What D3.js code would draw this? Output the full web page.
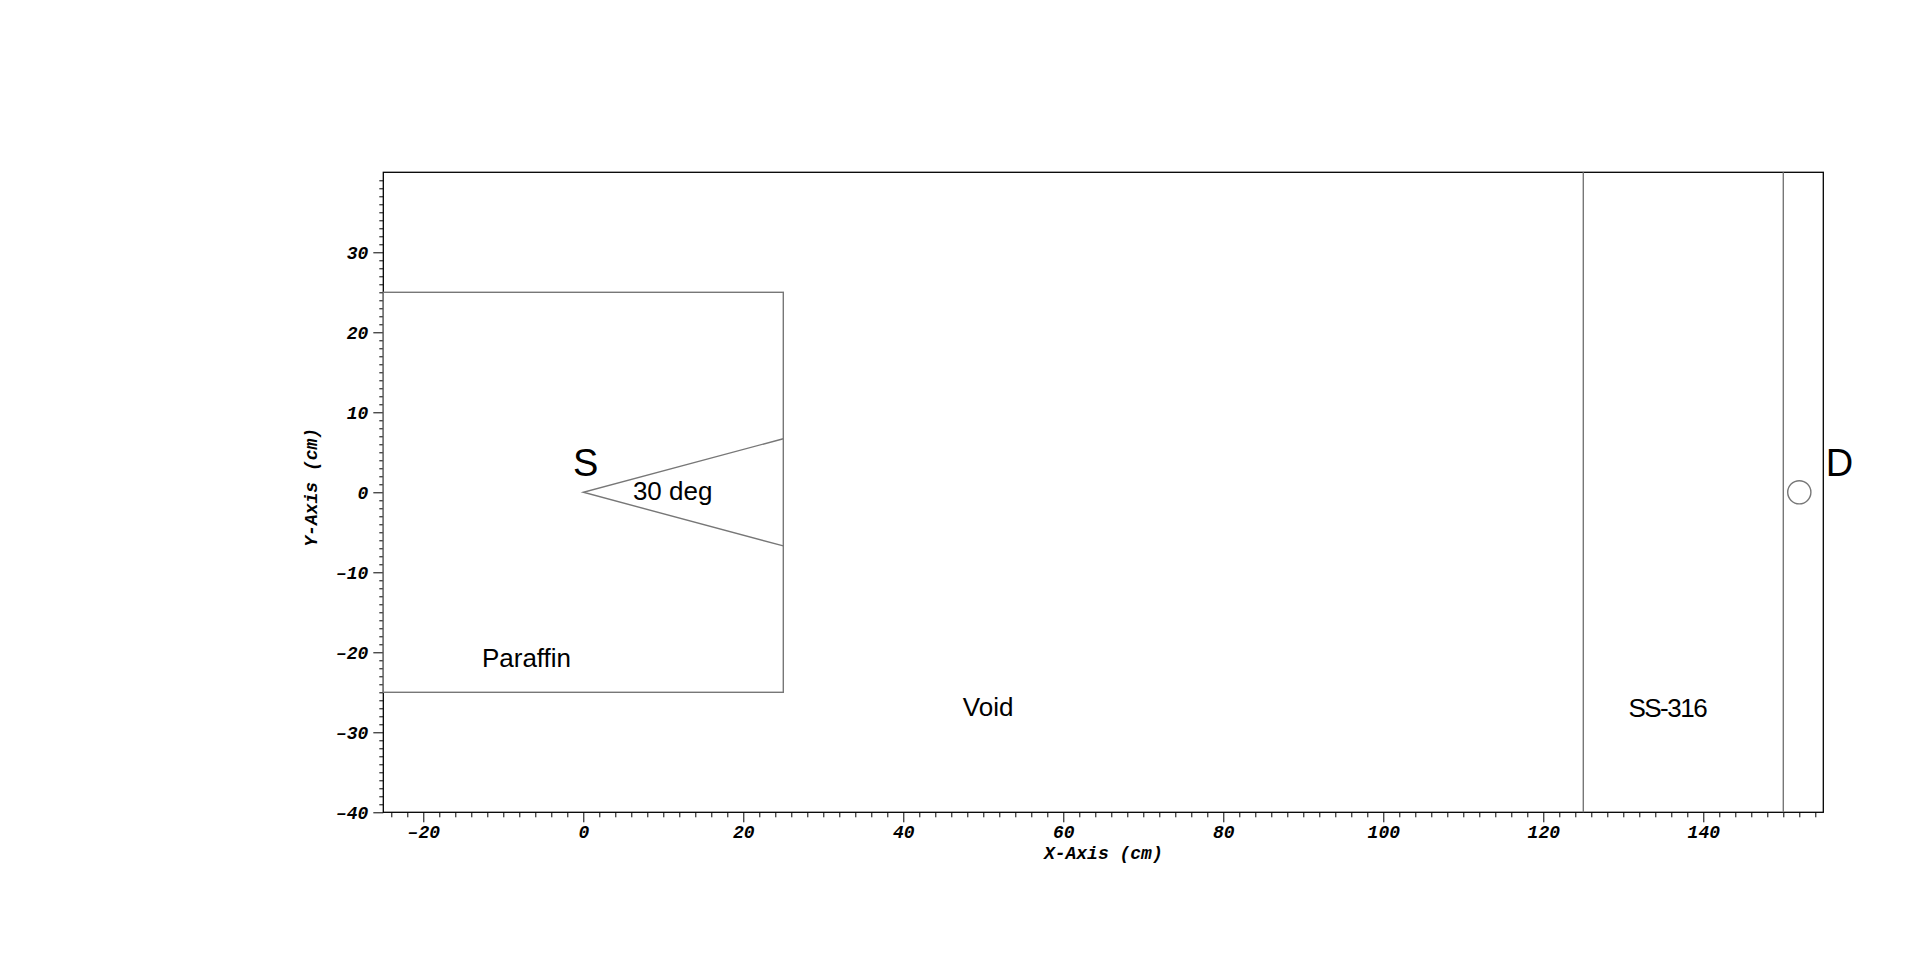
<!DOCTYPE html>
<html>
<head>
<meta charset="utf-8">
<script src="https://cdn.jsdelivr.net/npm/d3@7"></script>
<style>
  body { margin: 0; background: #fff; }
  .tick text { font-family: "Liberation Mono", monospace; font-weight: bold; font-style: italic; font-size: 18px; }
  .lbl { font-family: "Liberation Sans", sans-serif; fill: #000; }
</style>
</head>
<body>
<div id="chart"></div>
<script>
// geometry in cm
const xDomain = [-25, 155]
const yDomain = [-40, 40]
const xMajor = [-20, 0, 20, 40, 60, 80, 100, 120, 140]
const yMajor = [-40, -30, -20, -10, 0, 10, 20, 30]
const paraffinBox = [[-25, -25], [25, 25]]
const conePts = [[25, 6.7], [0, 0], [25, -6.7]]
const wallXs = [125, 150]
const detector = [152, 0, 1.45]   // x, y, radius
const labelText = ["S", "30 deg", "Paraffin", "Void", "SS-316", "D"]
const labelX = [0.3, 6.2, -7.1, 50.6, 135.5, 155.3]
const labelY = [2, -1, -21.9, -28, -28.1, 2]

let margin = { top: 172.3, left: 383.3 },
  width = 1440,
  height = 640

let svg = d3.select("#chart").append("svg")
  .attr("width", 1920)
  .attr("height", 956)
  .append("g")
  .attr("transform", "translate(" + margin.left + "," + margin.top + ")");

let x = d3.scaleLinear().domain(xDomain).range([0, width])
let y = d3.scaleLinear().domain(yDomain).range([height, 0])

// minor ticks
let xMinor = d3.range(-24, 156, 2).filter(v => v % 20 != 0)
let yMinor = d3.range(-39, 40, 1).filter(v => v % 10 != 0)

svg.append("g")
  .attr("transform", "translate(0," + height + ")")
  .call(d3.axisBottom(x).tickValues(xMinor).tickSize(5).tickFormat(""))
svg.append("g")
  .call(d3.axisLeft(y).tickValues(yMinor).tickSize(4).tickFormat(""))

let xAxis = svg.append("g")
  .attr("transform", "translate(0," + height + ")")
  .call(d3.axisBottom(x).tickValues(xMajor).tickSize(10).tickPadding(2).tickFormat(d => d < 0 ? "\u2013" + Math.abs(d) : d))
let yAxis = svg.append("g")
  .call(d3.axisLeft(y).tickValues(yMajor).tickSize(10).tickPadding(5).tickFormat(d => d < 0 ? "\u2013" + Math.abs(d) : d))

svg.selectAll(".domain").remove()
svg.selectAll(".tick line").attr("stroke", "#000")
xAxis.selectAll(".tick text").attr("dy", "0.75em")

// frame
svg.append("rect")
  .attr("x", 0).attr("y", 0)
  .attr("width", width).attr("height", height)
  .attr("fill", "none").attr("stroke", "#000").attr("stroke-width", 1.3)

// paraffin block
svg.append("rect")
  .attr("x", x(paraffinBox[0][0]))
  .attr("y", y(paraffinBox[1][1]))
  .attr("width", x(paraffinBox[1][0]) - x(paraffinBox[0][0]))
  .attr("height", y(paraffinBox[0][1]) - y(paraffinBox[1][1]))
  .attr("fill", "none").attr("stroke", "#777").attr("stroke-width", 1.4)

// source cone
svg.append("path")
  .attr("d", d3.line().x(d => x(d[0])).y(d => y(d[1]))(conePts))
  .attr("fill", "none").attr("stroke", "#777").attr("stroke-width", 1.4)

// steel wall
svg.selectAll(".wall")
  .data(wallXs)
  .enter()
  .append("line")
  .attr("class", "wall")
  .attr("x1", d => x(d)).attr("x2", d => x(d))
  .attr("y1", y(yDomain[1])).attr("y2", y(yDomain[0]))
  .attr("stroke", "#777").attr("stroke-width", 1.4)

// detector
svg.append("circle")
  .attr("cx", x(detector[0]))
  .attr("cy", y(detector[1]))
  .attr("r", x(detector[2]) - x(0))
  .attr("fill", "none").attr("stroke", "#777").attr("stroke-width", 1.4)

// labels
let labels = labelText.map((t, i) => ({ t: t, x: labelX[i], y: labelY[i] }))
svg.selectAll(".lbl")
  .data(labels)
  .enter()
  .append("text")
  .attr("class", "lbl")
  .attr("x", d => x(d.x))
  .attr("y", d => y(d.y))
  .attr("text-anchor", d => (d.t == "30 deg" || d.t == "D") ? "start" : "middle")
  .attr("font-size", d => (d.t == "S" || d.t == "D") ? "38px" : "26px")
  .attr("letter-spacing", d => d.t == "SS-316" ? "-1.5px" : null)
  .text(d => d.t)

// axis titles
svg.append("text")
  .attr("x", width / 2)
  .attr("y", height + 47)
  .attr("text-anchor", "middle")
  .attr("font-family", "Liberation Mono")
  .attr("font-weight", "bold")
  .attr("font-style", "italic")
  .attr("font-size", "18px")
  .text("X-Axis (cm)")

svg.append("text")
  .attr("transform", "rotate(-90)")
  .attr("x", -height / 2 + 5)
  .attr("y", -66)
  .attr("text-anchor", "middle")
  .attr("font-family", "Liberation Mono")
  .attr("font-weight", "bold")
  .attr("font-style", "italic")
  .attr("font-size", "18px")
  .text("Y-Axis (cm)")
</script>
</body>
</html>
